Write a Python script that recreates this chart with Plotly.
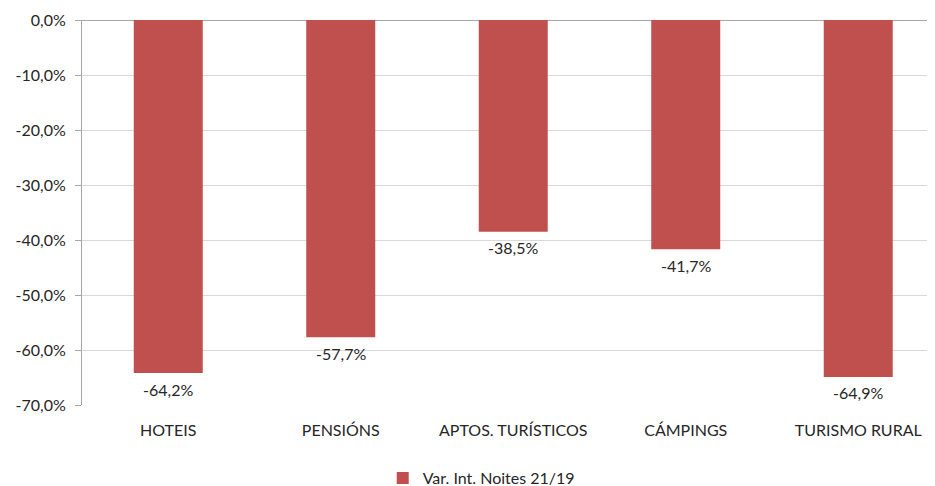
import plotly.graph_objects as go

categories = ["HOTEIS", "PENSIÓNS", "APTOS. TURÍSTICOS", "CÁMPINGS", "TURISMO RURAL"]
values = [-0.642, -0.577, -0.385, -0.417, -0.649]
series_name = "Var. Int. Noites 21/19"
tick_vals = [0, -0.1, -0.2, -0.3, -0.4, -0.5, -0.6, -0.7]


def pct(v):
    # Excel style: comma decimal, plain hyphen minus
    return f"{v * 100:.1f}%".replace(".", ",")


font = "Lato, 'Open Sans', sans-serif"

fig = go.Figure()
fig.add_trace(go.Bar(
    x=categories,
    y=values,
    name=series_name,
    marker=dict(color="#C0504D", line=dict(width=0)),
    width=0.4,
    showlegend=True,
))

# data labels just below each bar end
for cat, v in zip(categories, values):
    fig.add_annotation(
        x=cat, y=v,
        text=pct(v),
        showarrow=False,
        yanchor="middle",
        yshift=-16,
        font=dict(size=16, color="#262626", family=font),
    )

# the page body adds an 8px offset, so the figure is drawn 8px smaller
fig.update_layout(
    width=927,
    height=478,
    plot_bgcolor="white",
    paper_bgcolor="white",
    margin=dict(l=74, r=0, t=12, b=81, autoexpand=False),
    font=dict(family=font, size=16, color="#262626"),
    legend=dict(
        orientation="h",
        x=0.468, xanchor="center",
        y=-0.19, yanchor="middle",
        font=dict(size=16),
        itemwidth=30,
    ),
    xaxis=dict(
        range=[-0.5, 4.445],
        showgrid=False,
        showline=False,
        ticks="",
        ticklabelstandoff=14,
        automargin=False,
    ),
    yaxis=dict(
        range=[-0.7, 0],
        tickvals=tick_vals,
        ticktext=[pct(v) for v in tick_vals],
        showgrid=True,
        gridcolor="#D9D9D9",
        gridwidth=1,
        zeroline=True,
        zerolinecolor="#A6A6A6",
        zerolinewidth=1,
        showline=True,
        linecolor="#A6A6A6",
        linewidth=1,
        ticks="outside",
        ticklen=6,
        tickcolor="#A6A6A6",
        ticklabelstandoff=6,
        automargin=False,
    ),
)

fig.write_html("out.html")
